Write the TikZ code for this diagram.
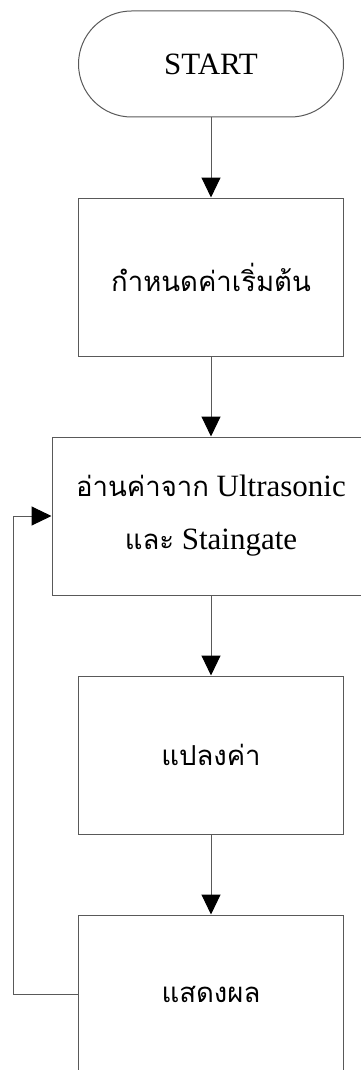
\documentclass[tikz,border=0pt]{standalone}
\usepackage{fontspec}
\setmainfont{Liberation Serif}
\newfontfamily\thaifont[Script=Thai]{Loma}
\usetikzlibrary{positioning,arrows.meta}
\newcommand{\thtext}{\thaifont\fontsize{27.5}{53}\selectfont}

\begin{document}
\begin{tikzpicture}[x=1pt,y=1pt,
  node distance=80pt,
  box/.style={draw=black!65,line width=1pt,minimum width=265pt,minimum height=158pt,font=\fontsize{31}{53}\selectfont,align=center,inner sep=0pt},
  term/.style={box,rounded corners=53pt,minimum height=106pt},
  flow/.style={draw=black!65,line width=1pt,-{Triangle[length=20pt,width=19pt,color=black]}}]
  \clip (0,0) rectangle (361,-1070);
  \node (start) [term] at (211,-64) {START};
  \node (init) [box,below=of start] {\thtext กำหนดค่าเริ่มต้น};
  \node (read) [box,minimum width=318pt,below=of init] {{\thtext อ่านค่าจาก} Ultrasonic\\{\thtext และ} Staingate};
  \node (conv) [box,below=of read] {\thtext แปลงค่า};
  \node (show) [box,below=of conv] {\thtext แสดงผล};
  \draw[flow] (start)--(init);
  \draw[flow] (init)--(read);
  \draw[flow] (read)--(conv);
  \draw[flow] (conv)--(show);
  \draw[flow] (show.west)--++(-65,0) |- (read.west);
\end{tikzpicture}
\end{document}
